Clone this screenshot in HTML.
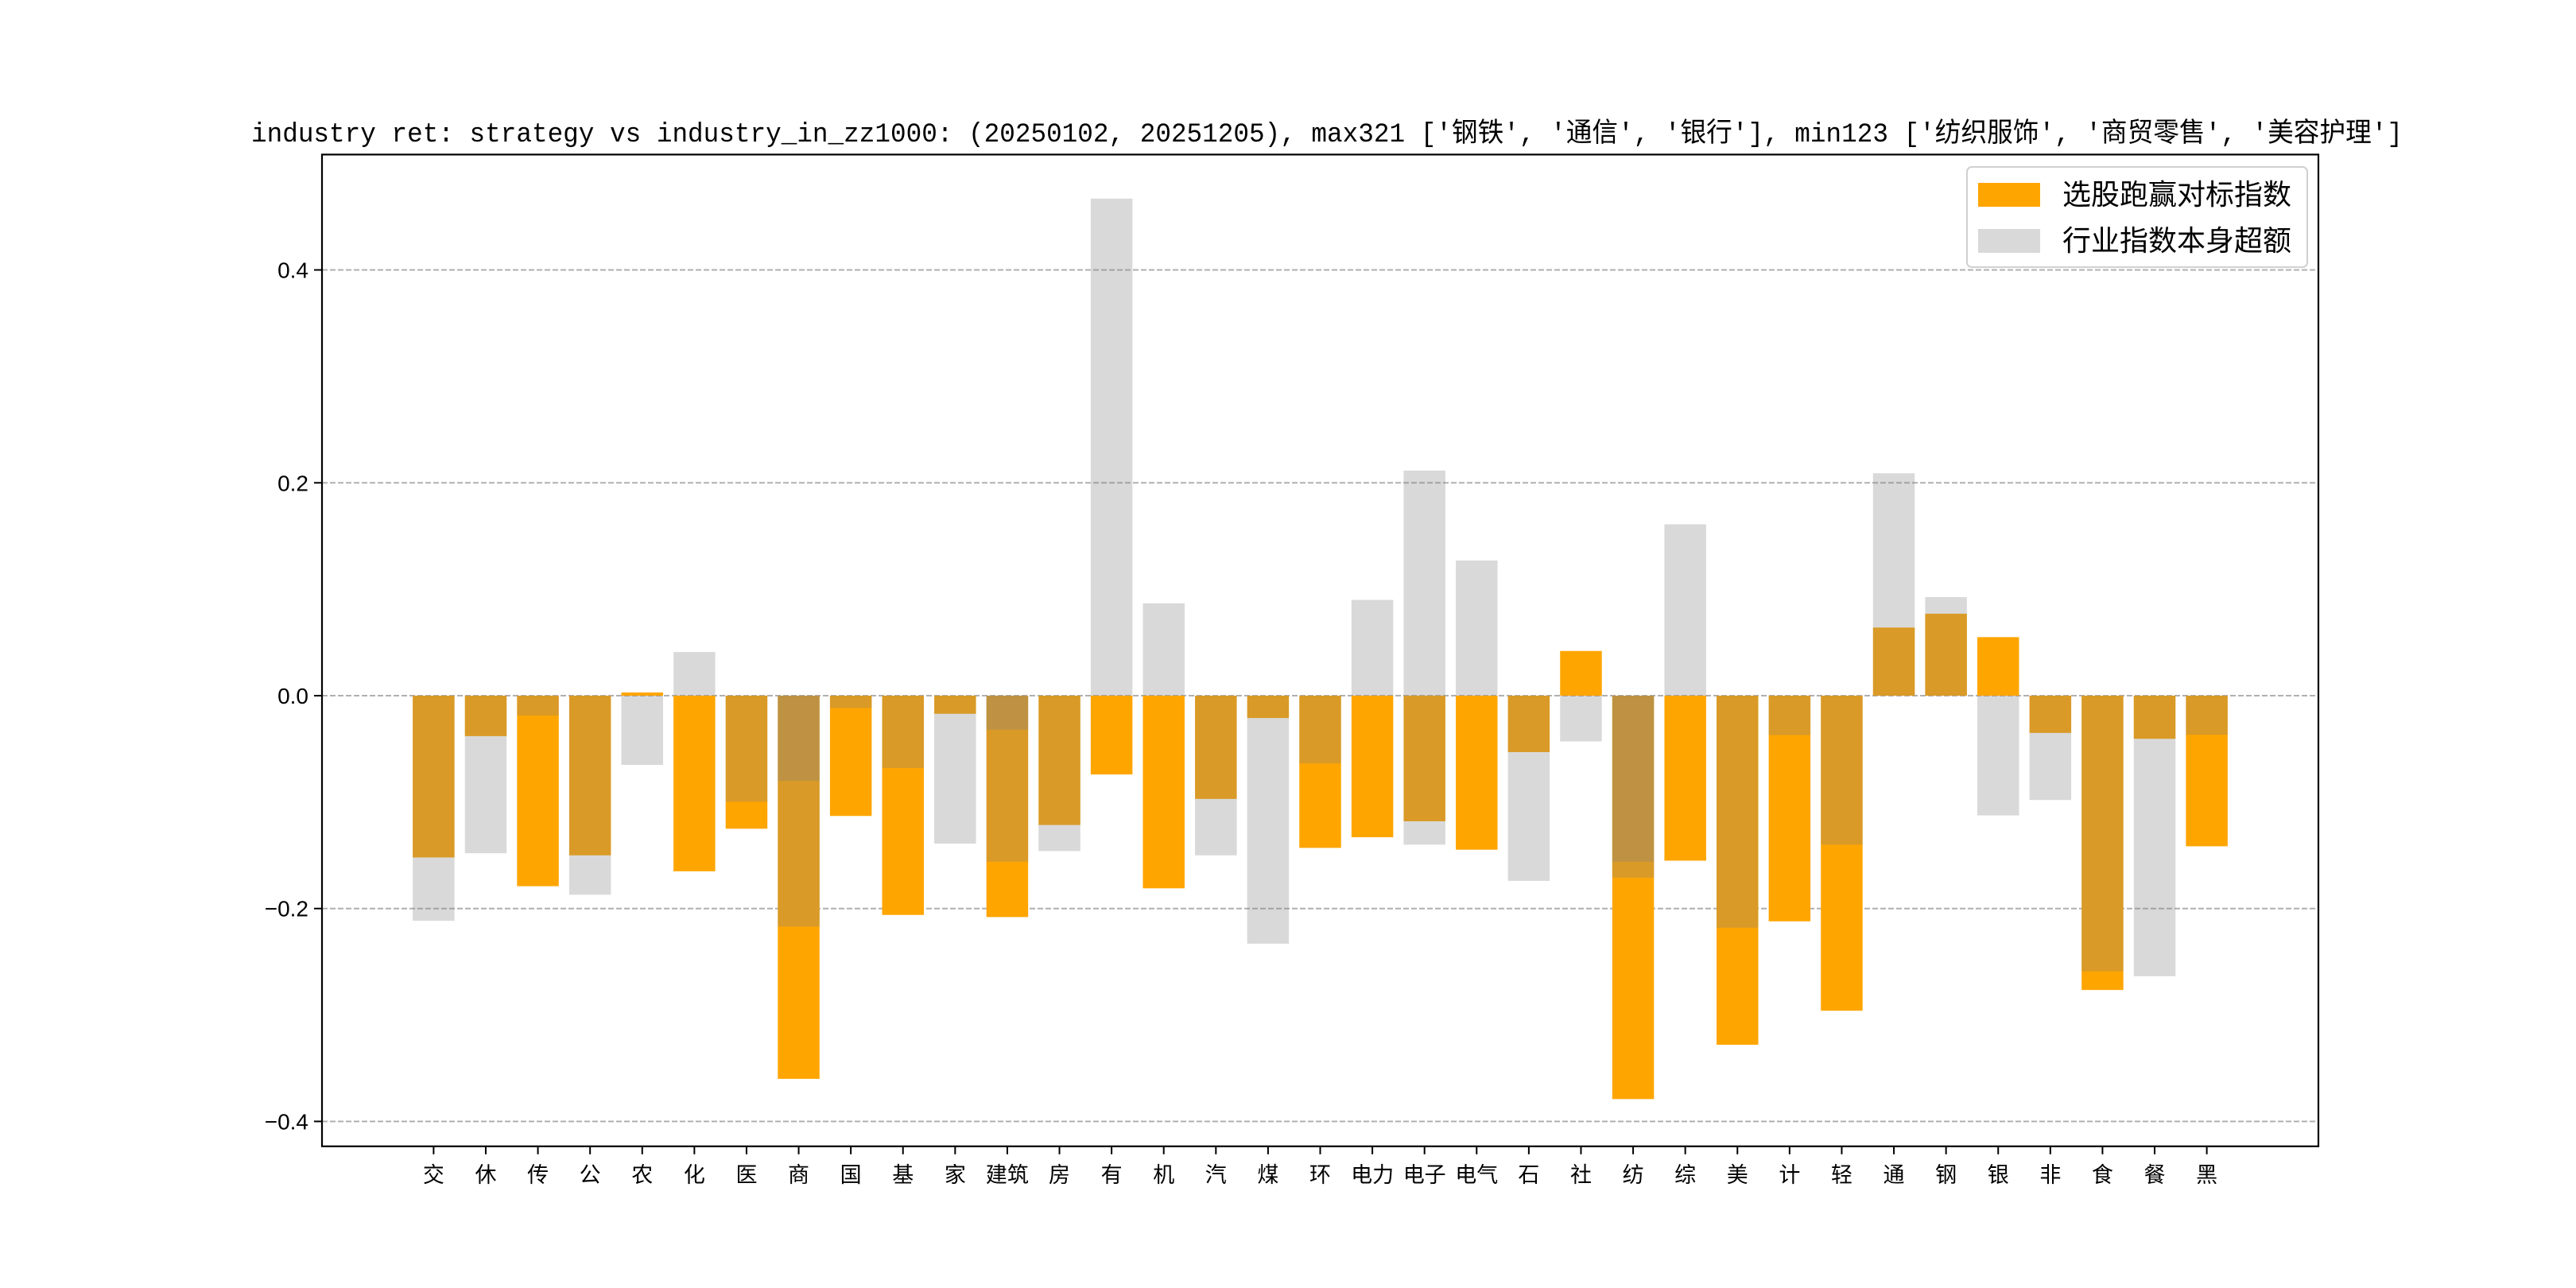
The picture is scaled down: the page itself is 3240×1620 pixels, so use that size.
<!DOCTYPE html>
<html><head><meta charset="utf-8"><style>
html,body{margin:0;padding:0;background:#fff;}
svg{display:block;}
text{font-family:"Liberation Sans","Noto Sans CJK SC",sans-serif;}
</style></head><body>
<svg id="chart" width="3240" height="1620" viewBox="0 0 3240 1620" xmlns="http://www.w3.org/2000/svg">
<rect x="0" y="0" width="3240" height="1620" fill="#fff"/>
<text x="1669" y="178" text-anchor="middle" font-size="34" textLength="2706" lengthAdjust="spacingAndGlyphs" style="font-family:'Liberation Mono','Noto Sans CJK SC',monospace">industry ret: strategy vs industry_in_zz1000: (20250102, 20251205), max321 ['钢铁', '通信', '银行'], min123 ['纺织服饰', '商贸零售', '美容护理']</text>
<g id="grid"></g>
<g id="bars"></g>
<rect x="405" y="194.4" width="2511" height="1247.4" fill="none" stroke="#000" stroke-width="2.2"/>
<g id="axes"></g>
<g>
<rect x="2474" y="210" width="428" height="126" rx="6" fill="#fff" fill-opacity="0.8" stroke="#d0d0d0" stroke-width="2"/>
<rect x="2488" y="230" width="78" height="30" fill="#FFA500"/>
<text x="2594" y="257" font-size="36">选股跑赢对标指数</text>
<rect x="2488" y="288" width="78" height="30" fill="gray" fill-opacity="0.3"/>
<text x="2594" y="315" font-size="36">行业指数本身超额</text>
</g>
</svg>
<script>
const categories = ['交','休','传','公','农','化','医','商','国','基','家','建筑','房','有','机','汽','煤','环','电力','电子','电气','石','社','纺','综','美','计','轻','通','钢','银','非','食','餐','黑'];
const strategyValues = [-0.152,-0.038,-0.179,-0.150,0.003,-0.165,-0.125,-0.360,-0.113,-0.206,-0.017,-0.208,-0.1215,-0.074,-0.181,-0.097,-0.021,-0.143,-0.133,-0.118,-0.1447,-0.053,0.042,-0.379,-0.155,-0.328,-0.212,-0.296,0.064,0.077,0.055,-0.035,-0.2765,-0.0405,-0.1415];
const industryValues = [-0.2115,-0.148,-0.0186,-0.187,-0.065,0.041,-0.0997,-0.217,-0.0116,-0.068,-0.139,-0.156,-0.146,0.467,0.0868,-0.150,-0.233,-0.0637,0.090,0.2115,0.127,-0.174,-0.043,-0.171,0.161,-0.218,-0.037,-0.140,0.209,0.0926,-0.1125,-0.098,-0.259,-0.2636,-0.0367];
const extraValues = [0,0,0,0,0,0,0,-0.080,0,0,0,-0.032,0,0,0,0,0,0,0,-0.140,0,0,0,-0.156,0,0,0,0,0,0,0,0,0,0,0];
const yTicks = [-0.4,-0.2,0.0,0.2,0.4];
const yTickLabels = ['−0.4','−0.2','0.0','0.2','0.4'];

const NS='http://www.w3.org/2000/svg';
const L=405,R=2916,T=194.4,B=1441.8;
const n=categories.length;
const xmin=-0.4-0.05*(n-1+0.8), xmax=(n-1)+0.4+0.05*(n-1+0.8);
const ymin=-0.4234, ymax=0.5084;
function xs(i){return L+(i-xmin)/(xmax-xmin)*(R-L);}
function ys(v){return B-(v-ymin)/(ymax-ymin)*(B-T);}
const bw=0.8*(R-L)/(xmax-xmin);
function mk(tag,attrs,parent){const e=document.createElementNS(NS,tag);for(const k in attrs)e.setAttribute(k,attrs[k]);parent.appendChild(e);return e;}
const grid=document.getElementById('grid'),bars=document.getElementById('bars'),axes=document.getElementById('axes');
yTicks.forEach((t,k)=>{
  const y=ys(t);
  const g=mk('line',{x1:L,x2:R,y1:y,y2:y,stroke:'#b0b0b0','stroke-width':2,'stroke-dasharray':'7,3'},grid);
  
  
  const tk=mk('line',{x1:L-10,x2:L,y1:y,y2:y,stroke:'#000','stroke-width':2},axes);
  
  
  const tx=mk('text',{x:L-17,y:y+10,'text-anchor':'end','font-size':28,style:"font-family:'Liberation Sans Narrow','Liberation Sans',sans-serif"},axes);
  tx.textContent=yTickLabels[k];
  
  
});
function drawSeries(vals,fill,op,name){
  vals.forEach((v,i)=>{
    if(v===0)return;
    const y0=ys(0),y1=ys(v);
    const r=mk('rect',{x:xs(i)-bw/2,y:Math.min(y0,y1),width:bw,height:Math.abs(y1-y0),fill:fill,'fill-opacity':op},bars);
    
    
  });
}
drawSeries(strategyValues,'#FFA500',1,'strategy');
drawSeries(industryValues,'gray',0.3,'industry');
drawSeries(extraValues,'gray',0.3,'extra');
categories.forEach((c,i)=>{
  const x=xs(i);
  const tk=mk('line',{x1:x,x2:x,y1:B,y2:B+10,stroke:'#000','stroke-width':2},axes);
  
  
  const tx=mk('text',{x:x,y:B+45,'text-anchor':'middle','font-size':27},axes);
  tx.textContent=c;
  
  
});
</script>
</body></html>
